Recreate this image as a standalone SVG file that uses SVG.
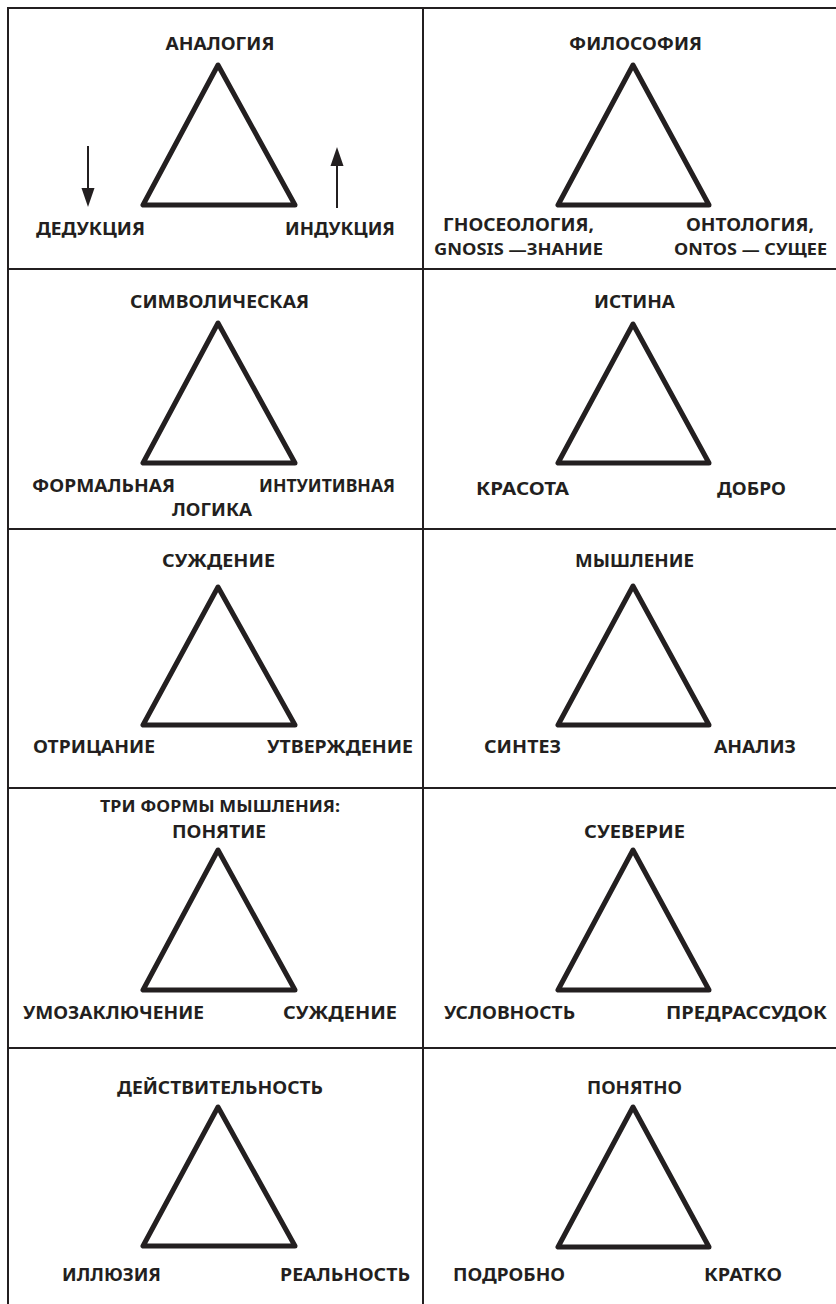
<svg xmlns="http://www.w3.org/2000/svg" width="836" height="1304" viewBox="0 0 836 1304">
<style>
.bg{fill:#fff}
.grid{stroke:#231f20;stroke-width:2;fill:none}
.tri{fill:none;stroke:#231f20;stroke-width:5;stroke-linejoin:round;stroke-linecap:round}
.t{font-family:"Noto Sans","DejaVu Sans",sans-serif;font-weight:bold;font-size:18.5px;fill:#231f20;text-anchor:middle}
.s{font-size:15.5px}
.arr{stroke:#231f20;stroke-width:2;fill:none}
.ah{fill:#231f20}
</style>
<rect class="bg" x="0" y="0" width="836" height="1304"/>
<g id="grid">
<path class="grid" d="M8,1304 V8 H836 M423,8 V1304 M8,269 H836 M8,529 H836 M8,788 H836 M8,1048 H836"/>
</g>
<g id="cell-analogiya">
<polygon class="tri" points="218,65 143,205 295,205"/>
<text class="t" x="220" y="50" textLength="109" lengthAdjust="spacingAndGlyphs">АНАЛОГИЯ</text>
<text class="t" x="90.5" y="235" textLength="109" lengthAdjust="spacingAndGlyphs">ДЕДУКЦИЯ</text>
<text class="t" x="340" y="235" textLength="110" lengthAdjust="spacingAndGlyphs">ИНДУКЦИЯ</text>
</g>
<g id="connectors">
<line class="arr" x1="88" y1="146" x2="88" y2="192"/>
<polygon class="ah" points="81.5,188 94.5,188 88,207"/>
<line class="arr" x1="337" y1="208" x2="337" y2="162"/>
<polygon class="ah" points="330.5,166 343.5,166 337,147"/>
</g>
<g id="cell-filosofiya">
<polygon class="tri" points="633,65 558,205 709,205"/>
<text class="t" x="635.5" y="50" textLength="133" lengthAdjust="spacingAndGlyphs">ФИЛОСОФИЯ</text>
<text class="t" x="518.5" y="231" textLength="151" lengthAdjust="spacingAndGlyphs">ГНОСЕОЛОГИЯ,</text>
<text class="t s" x="518.5" y="255" textLength="169" lengthAdjust="spacingAndGlyphs">GNOSIS —ЗНАНИЕ</text>
<text class="t" x="750" y="231" textLength="128" lengthAdjust="spacingAndGlyphs">ОНТОЛОГИЯ,</text>
<text class="t s" x="750.5" y="255" textLength="153" lengthAdjust="spacingAndGlyphs">ONTOS — СУЩЕЕ</text>
</g>
<g id="cell-simvolicheskaya">
<polygon class="tri" points="218,323 143,463 295,463"/>
<text class="t" x="219.5" y="308" textLength="179" lengthAdjust="spacingAndGlyphs">СИМВОЛИЧЕСКАЯ</text>
<text class="t" x="103.5" y="492" textLength="143" lengthAdjust="spacingAndGlyphs">ФОРМАЛЬНАЯ</text>
<text class="t" x="327" y="492" textLength="136" lengthAdjust="spacingAndGlyphs">ИНТУИТИВНАЯ</text>
<text class="t" x="212" y="516" textLength="80" lengthAdjust="spacingAndGlyphs">ЛОГИКА</text>
</g>
<g id="cell-istina">
<polygon class="tri" points="633,324 558,463 709,463"/>
<text class="t" x="634.5" y="308" textLength="81" lengthAdjust="spacingAndGlyphs">ИСТИНА</text>
<text class="t" x="522.5" y="495" textLength="93" lengthAdjust="spacingAndGlyphs">КРАСОТА</text>
<text class="t" x="751.5" y="495" textLength="69" lengthAdjust="spacingAndGlyphs">ДОБРО</text>
</g>
<g id="cell-suzhdenie">
<polygon class="tri" points="218,587 143,725 295,725"/>
<text class="t" x="218.5" y="567" textLength="113" lengthAdjust="spacingAndGlyphs">СУЖДЕНИЕ</text>
<text class="t" x="94" y="753" textLength="122" lengthAdjust="spacingAndGlyphs">ОТРИЦАНИЕ</text>
<text class="t" x="340" y="753" textLength="146" lengthAdjust="spacingAndGlyphs">УТВЕРЖДЕНИЕ</text>
</g>
<g id="cell-myshlenie">
<polygon class="tri" points="633,586 558,725 709,725"/>
<text class="t" x="634.5" y="567" textLength="119" lengthAdjust="spacingAndGlyphs">МЫШЛЕНИЕ</text>
<text class="t" x="522.5" y="753" textLength="77" lengthAdjust="spacingAndGlyphs">СИНТЕЗ</text>
<text class="t" x="755" y="753" textLength="82" lengthAdjust="spacingAndGlyphs">АНАЛИЗ</text>
</g>
<g id="cell-formy">
<polygon class="tri" points="218,850 143,990 295,990"/>
<text class="t s" x="220" y="812" textLength="240" lengthAdjust="spacingAndGlyphs">ТРИ ФОРМЫ МЫШЛЕНИЯ:</text>
<text class="t" x="219" y="838" textLength="94" lengthAdjust="spacingAndGlyphs">ПОНЯТИЕ</text>
<text class="t" x="113.5" y="1019" textLength="181" lengthAdjust="spacingAndGlyphs">УМОЗАКЛЮЧЕНИЕ</text>
<text class="t" x="340" y="1019" textLength="114" lengthAdjust="spacingAndGlyphs">СУЖДЕНИЕ</text>
</g>
<g id="cell-sueverie">
<polygon class="tri" points="633,850 558,990 709,990"/>
<text class="t" x="634.5" y="838" textLength="101" lengthAdjust="spacingAndGlyphs">СУЕВЕРИЕ</text>
<text class="t" x="509.5" y="1019" textLength="131" lengthAdjust="spacingAndGlyphs">УСЛОВНОСТЬ</text>
<text class="t" x="746.5" y="1019" textLength="161" lengthAdjust="spacingAndGlyphs">ПРЕДРАССУДОК</text>
</g>
<g id="cell-deystvitelnost">
<polygon class="tri" points="218,1107 143,1246 295,1246"/>
<text class="t" x="220" y="1094" textLength="206" lengthAdjust="spacingAndGlyphs">ДЕЙСТВИТЕЛЬНОСТЬ</text>
<text class="t" x="111.5" y="1281" textLength="99" lengthAdjust="spacingAndGlyphs">ИЛЛЮЗИЯ</text>
<text class="t" x="345" y="1281" textLength="130" lengthAdjust="spacingAndGlyphs">РЕАЛЬНОСТЬ</text>
</g>
<g id="cell-ponyatno">
<polygon class="tri" points="633,1107 558,1247 709,1247"/>
<text class="t" x="634.5" y="1094" textLength="95" lengthAdjust="spacingAndGlyphs">ПОНЯТНО</text>
<text class="t" x="509" y="1281" textLength="112" lengthAdjust="spacingAndGlyphs">ПОДРОБНО</text>
<text class="t" x="743" y="1281" textLength="78" lengthAdjust="spacingAndGlyphs">КРАТКО</text>
</g>
</svg>
